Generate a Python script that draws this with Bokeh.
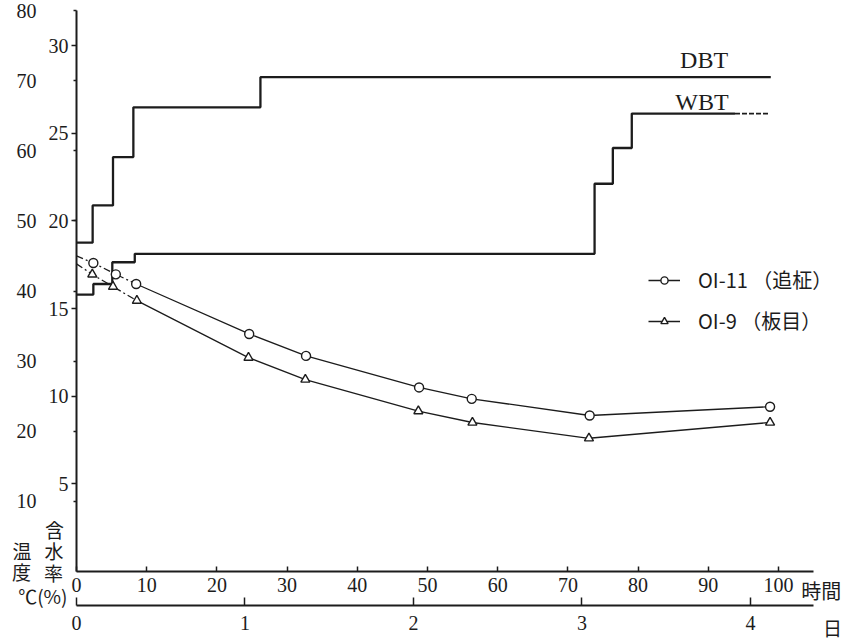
from bokeh.plotting import figure
from bokeh.models import Range1d, LinearAxis, FixedTicker, Label, Legend, LegendItem
from bokeh.embed import file_html
from bokeh.resources import INLINE

# ---------------- data ----------------
# kiln schedule: hour at which each setting starts (last = end of record), temperature in deg C
dbt_hours = [0, 2.3, 5.2, 8.1, 26.2, 98.9]
dbt_temp = [46.9, 52.2, 59.1, 66.2, 70.5]
wbt_hours = [0, 2.4, 5.1, 8.3, 73.8, 76.4, 79.1, 98.7]
wbt_temp = [39.5, 41.0, 44.1, 45.3, 55.3, 60.4, 65.3]
wbt_dashed_from = 93.8  # end of record drawn dashed

# moisture content (%)
oi11_hours = [0, 2.4, 5.6, 8.5, 24.6, 32.7, 48.8, 56.3, 73.1, 98.8]
oi11_mc = [18.0, 17.6, 16.95, 16.4, 13.55, 12.3, 10.5, 9.85, 8.9, 9.4]
oi9_hours = [0, 2.25, 5.2, 8.6, 24.5, 32.6, 48.7, 56.4, 73.0, 98.8]
oi9_mc = [17.55, 16.95, 16.25, 15.45, 12.2, 10.95, 9.15, 8.5, 7.6, 8.5]
early_points = 4  # first readings joined with a dash-dot line

series_labels = ["OI-11 （追柾）", "OI-9 （板目）"]
hour_ticks = [0, 10, 20, 30, 40, 50, 60, 70, 80, 90, 100]
day_ticks = [0, 1, 2, 3, 4]
mc_ticks = [5, 10, 15, 20, 25, 30]
temp_ticks = [10, 20, 30, 40, 50, 60, 70, 80]

HOURS_END = 105      # end of the time axes (hours)
MC_TOP = 32          # top of the moisture axis (%)
TEMP_PER_MC = 2.5    # 1 % moisture on the scale = 2.5 deg C

# ---------------- geometry (pixels) ----------------
W, H = 852, 640
X0, Y0 = 76, 571          # canvas position of (0 h, 0 %)
PX_H, PX_MC = 7.02, 17.53  # pixels per hour, pixels per %

x_start, x_end = -X0 / PX_H, (W - X0) / PX_H
y_start, y_end = -(H - Y0) / PX_MC, Y0 / PX_MC

INK = "#1c1c1c"
SERIF = "Liberation Serif"
CJK = "Noto Sans CJK JP"

p = figure(width=W, height=H, x_range=Range1d(x_start, x_end), y_range=Range1d(y_start, y_end),
           output_backend="svg", toolbar_location=None,
           x_axis_location=None, y_axis_location=None,
           min_border=0, min_border_left=0, min_border_right=0,
           min_border_top=0, min_border_bottom=0)
if p.title is not None:
    p.title.visible = False
p.extra_y_ranges = {"temp": Range1d(y_start * TEMP_PER_MC, y_end * TEMP_PER_MC)}
p.extra_x_ranges = {"days": Range1d(x_start / 24, x_end / 24)}
p.grid.visible = False
p.outline_line_color = None
p.background_fill_color = "white"
p.border_fill_color = "white"


def style_axis(ax, size="20px"):
    ax.axis_line_color = INK
    ax.axis_line_width = 2
    ax.major_tick_line_color = INK
    ax.major_tick_line_width = 1.5
    ax.minor_tick_line_color = None
    ax.major_label_text_font = SERIF
    ax.major_label_text_font_size = size
    ax.major_label_text_color = INK


# moisture axis
ya = LinearAxis(fixed_location=0, bounds=(0, MC_TOP), ticker=FixedTicker(ticks=mc_ticks))
style_axis(ya)
ya.major_tick_out = 5
ya.major_tick_in = 0
ya.major_label_standoff = 3
p.add_layout(ya, "left")

# temperature scale: small ticks on the same line, labels further left
ta = LinearAxis(y_range_name="temp", fixed_location=0, bounds=(0, MC_TOP * TEMP_PER_MC),
                ticker=FixedTicker(ticks=temp_ticks))
style_axis(ta)
ta.axis_line_color = None
ta.major_tick_out = 3
ta.major_tick_in = 0
ta.major_label_standoff = 37
p.add_layout(ta, "left")

# hours axis
xa = LinearAxis(fixed_location=0, bounds=(0, HOURS_END), ticker=FixedTicker(ticks=hour_ticks))
style_axis(xa)
xa.major_tick_in = 5
xa.major_tick_out = 0
xa.major_label_standoff = 6
p.add_layout(xa, "below")

# days axis, 34 px below the hours axis
da = LinearAxis(x_range_name="days", fixed_location=-34 / PX_MC, bounds=(0, HOURS_END / 24),
                ticker=FixedTicker(ticks=day_ticks))
style_axis(da)
da.major_tick_in = 8
da.major_tick_out = 0
da.major_label_standoff = 10
p.add_layout(da, "below")

# ---------------- schedule lines ----------------
p.step(dbt_hours, dbt_temp + [dbt_temp[-1]], mode="after", y_range_name="temp",
       line_color=INK, line_width=2.3)
p.step(wbt_hours[:-1] + [wbt_dashed_from], wbt_temp + [wbt_temp[-1]], mode="after",
       y_range_name="temp", line_color=INK, line_width=2.3)
p.line([wbt_dashed_from, wbt_hours[-1]], [wbt_temp[-1], wbt_temp[-1]], y_range_name="temp",
       line_color=INK, line_width=1.6, line_dash="5 2")

# ---------------- moisture curves ----------------
items = []
for hrs, mc, marker, lab in [(oi11_hours, oi11_mc, "circle", series_labels[0]),
                             (oi9_hours, oi9_mc, "triangle", series_labels[1])]:
    p.line(hrs[:early_points], mc[:early_points], line_color=INK, line_width=1.3,
           line_dash="7 3 2 3")
    r_line = p.line(hrs[early_points - 1:], mc[early_points - 1:], line_color=INK, line_width=1.3)
    r_pts = p.scatter(hrs[1:], mc[1:], marker=marker, size=9, fill_color="white",
                      line_color=INK, line_width=1.4)
    items.append(LegendItem(label=lab, renderers=[r_line, r_pts]))

legend = Legend(items=items, location=(648, 305), orientation="vertical",
                border_line_color=None, background_fill_alpha=0, padding=0, margin=0,
                spacing=12, glyph_width=32, glyph_height=18, label_standoff=18,
                label_text_font=CJK, label_text_font_size="20px", label_text_color=INK)
p.add_layout(legend)

# ---------------- texts ----------------
def add_text(x, y, text, font, size, align="center"):
    p.add_layout(Label(x=x, y=y, text=text, text_font=font, text_font_size=size,
                       text_align=align, text_baseline="middle", text_color=INK))

add_text(89.4, 29.16, "DBT", SERIF, "24px")
add_text(89.1, 26.77, "WBT", SERIF, "24px")
add_text(106.1, -1.08, "時間", CJK, "20px")
add_text(107.7, -3.2, "日", CJK, "19px")
add_text(-3.13, 2.37, "含", CJK, "19px")
add_text(-3.21, 1.17, "水", CJK, "19px")
add_text(-3.28, -0.03, "率", CJK, "19px")
add_text(-7.76, 1.22, "温", CJK, "19px")
add_text(-7.84, 0.02, "度", CJK, "19px")
add_text(-4.79, -1.38, "℃(%)", CJK, "19px")

open("out.html", "w").write(file_html(p, INLINE))
